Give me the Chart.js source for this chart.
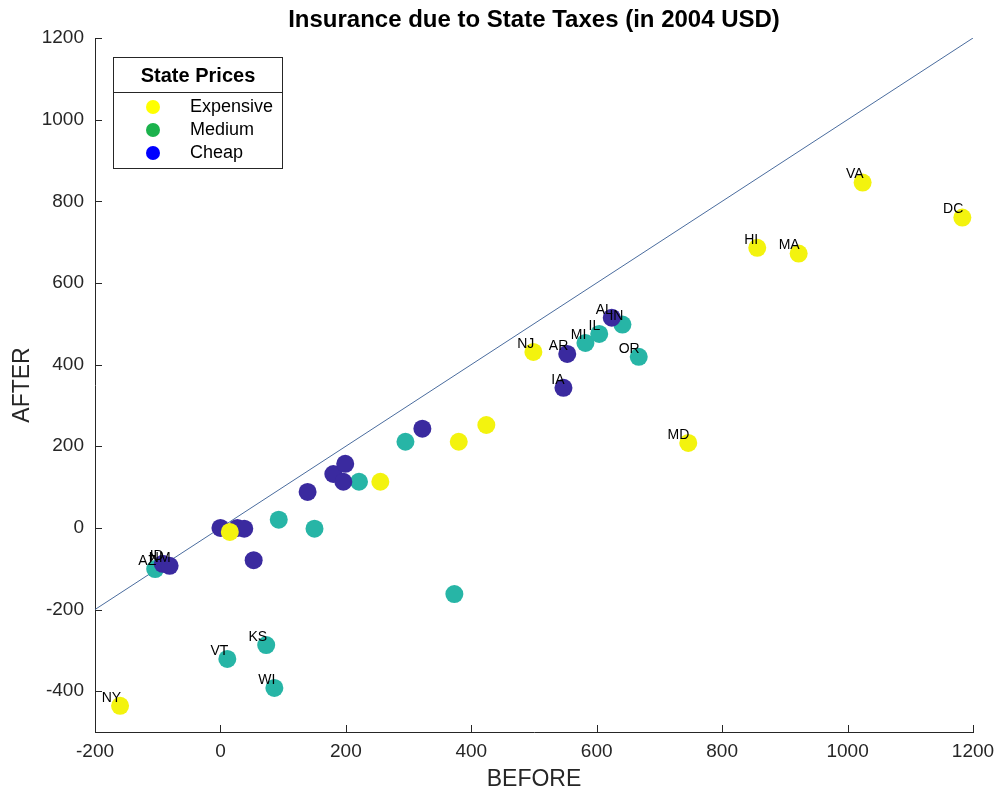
<!DOCTYPE html>
<html>
<head>
<meta charset="utf-8">
<script src="https://cdn.jsdelivr.net/npm/chart.js@4/dist/chart.umd.min.js"></script>
<style>
  html, body { margin: 0; padding: 0; background: #ffffff; }
  #wrap { width: 1001px; height: 795px; }
</style>
</head>
<body>
<div id="wrap"><canvas id="c" width="1001" height="795"></canvas></div>
<script>
// Insurance cost per state, before and after state taxes (2004 USD)
const expensiveStates = ['NY', '', '', '', '', 'NJ', 'MD', 'HI', 'MA', 'VA', 'DC'];
const expensiveBefore = [-160, 15, 255, 380, 424, 499, 746, 856, 922, 1024, 1183];
const expensiveAfter  = [-436, -10, 113, 211, 252, 431, 208, 686, 672, 846, 760];

const mediumStates = ['AZ', 'VT', 'KS', 'WI', '', '', '', '', '', 'MI', 'IL', 'IN', 'OR'];
const mediumBefore = [-104, 11, 73, 86, 93, 150, 221, 295, 373, 582, 604, 641, 667];
const mediumAfter  = [-101, -321, -287, -392, 20, -2, 113, 211, -162, 453, 475, 498, 419];

const cheapStates = ['ID', 'NM', '', '', '', '', '', '', '', '', '', 'AR', 'IA', 'AL'];
const cheapBefore = [-92, -81, 0, 27, 38, 53, 139, 180, 199, 196, 322, 553, 547, 624];
const cheapAfter  = [-88, -93, 0, 0, -2, -79, 88, 132, 157, 113, 243, 426, 343, 515];

// Equal before/after reference line
const refLine = [-200, 1200];

const xTicks = [-200, 0, 200, 400, 600, 800, 1000, 1200];
const yTicks = [-400, -200, 0, 200, 400, 600, 800, 1000, 1200];

const legendNames = ['Expensive', 'Medium', 'Cheap'];
const legendTitle = 'State Prices';
const chartTitle = 'Insurance due to State Taxes (in 2004 USD)';

const FONT = "'Liberation Sans', Arial, Helvetica, sans-serif";
const INK = '#262626';

function pts(xs, ys) { return xs.map((x, i) => ({ x: x, y: ys[i] })); }

const dotColors = ['#f3f30e', '#27b5a6', '#3a2a9f'];
const legendColors = ['#ffff00', '#1bb24c', '#0000ff'];

// Draws the state codes, inward tick marks, title and legend box
const extras = {
  id: 'extras',
  afterDatasetsDraw(chart) {
    const ctx = chart.ctx;
    ctx.save();
    ctx.fillStyle = '#000000';
    ctx.font = '14px ' + FONT;
    ctx.textAlign = 'right';
    ctx.textBaseline = 'middle';
    [0, 1, 2].forEach(di => {
      const meta = chart.getDatasetMeta(di);
      const names = chart.data.datasets[di].stateNames;
      meta.data.forEach((el, i) => {
        if (names[i]) ctx.fillText(names[i], el.x + 1, el.y - 8);
      });
    });
    ctx.restore();
  },
  afterDraw(chart) {
    const ctx = chart.ctx;
    const a = chart.chartArea;
    const xs = chart.scales.x, ys = chart.scales.y;
    ctx.save();
    // inward tick marks
    ctx.strokeStyle = INK;
    ctx.lineWidth = 1;
    ctx.beginPath();
    xTicks.forEach(v => {
      const p = Math.round(xs.getPixelForValue(v)) + 0.5;
      ctx.moveTo(p, a.bottom); ctx.lineTo(p, a.bottom - 7);
    });
    yTicks.forEach(v => {
      const p = Math.round(ys.getPixelForValue(v)) + 0.5;
      ctx.moveTo(a.left, p); ctx.lineTo(a.left + 7, p);
    });
    ctx.stroke();

    // title
    ctx.fillStyle = '#000000';
    ctx.font = 'bold 24px ' + FONT;
    ctx.textAlign = 'center';
    ctx.textBaseline = 'middle';
    ctx.fillText(chartTitle, (a.left + a.right) / 2, 20);

    // legend box
    const bx = 113.5, by = 57.5, bw = 169, bh = 111;
    ctx.fillStyle = '#ffffff';
    ctx.fillRect(bx, by, bw, bh);
    ctx.strokeStyle = INK;
    ctx.strokeRect(bx, by, bw, bh);
    ctx.beginPath();
    ctx.moveTo(bx, 92.5); ctx.lineTo(bx + bw, 92.5);
    ctx.stroke();
    ctx.fillStyle = '#000000';
    ctx.font = 'bold 20px ' + FONT;
    ctx.fillText(legendTitle, bx + bw / 2, 76);
    ctx.font = '18px ' + FONT;
    ctx.textAlign = 'left';
    legendNames.forEach((n, i) => {
      const cy = 107 + i * 23;
      ctx.fillStyle = legendColors[i];
      ctx.beginPath();
      ctx.arc(153, cy, 7, 0, Math.PI * 2);
      ctx.fill();
      ctx.fillStyle = '#000000';
      ctx.fillText(n, 190, cy);
    });
    ctx.restore();
  }
};

const plainNumber = v => String(v);

new Chart(document.getElementById('c'), {
  type: 'scatter',
  data: {
    datasets: [
      { label: legendNames[0], data: pts(expensiveBefore, expensiveAfter), stateNames: expensiveStates,
        backgroundColor: dotColors[0], borderWidth: 0, pointRadius: 9, pointHoverRadius: 9 },
      { label: legendNames[2], data: pts(cheapBefore, cheapAfter), stateNames: cheapStates,
        backgroundColor: dotColors[2], borderWidth: 0, pointRadius: 9, pointHoverRadius: 9 },
      { label: legendNames[1], data: pts(mediumBefore, mediumAfter), stateNames: mediumStates,
        backgroundColor: dotColors[1], borderWidth: 0, pointRadius: 9, pointHoverRadius: 9 },
      { type: 'line', label: 'equal', data: pts(refLine, refLine),
        borderColor: '#4a6c9e', borderWidth: 1, pointRadius: 0, fill: false }
    ]
  },
  options: {
    responsive: false,
    animation: false,
    layout: { padding: { top: 38, right: 28, left: 0, bottom: 0 } },
    plugins: { legend: { display: false }, tooltip: { enabled: false }, title: { display: false } },
    scales: {
      x: {
        type: 'linear', min: -200, max: 1200,
        afterBuildTicks: s => { s.ticks = xTicks.map(v => ({ value: v })); },
        afterFit: s => { s.height = 63; s.paddingLeft = 0; s.paddingRight = 0; },
        grid: { display: false, drawTicks: false },
        border: { display: true, color: INK, width: 1 },
        ticks: { color: INK, font: { family: FONT, size: 19 }, padding: 8, maxRotation: 0, callback: plainNumber },
        title: { display: true, text: 'BEFORE', color: INK, font: { family: FONT, size: 23 }, padding: { top: 0, bottom: 2 } }
      },
      y: {
        type: 'linear', min: -500, max: 1200,
        afterBuildTicks: s => { s.ticks = yTicks.map(v => ({ value: v })); },
        afterFit: s => { s.width = 95; s.paddingTop = 0; s.paddingBottom = 0; },
        grid: { display: false, drawTicks: false },
        border: { display: true, color: INK, width: 1 },
        ticks: { color: INK, font: { family: FONT, size: 19 }, padding: 11, callback: plainNumber },
        title: { display: true, text: 'AFTER', color: INK, font: { family: FONT, size: 23 }, padding: { top: 9, bottom: 0 } }
      }
    }
  },
  plugins: [extras]
});
</script>
</body>
</html>
